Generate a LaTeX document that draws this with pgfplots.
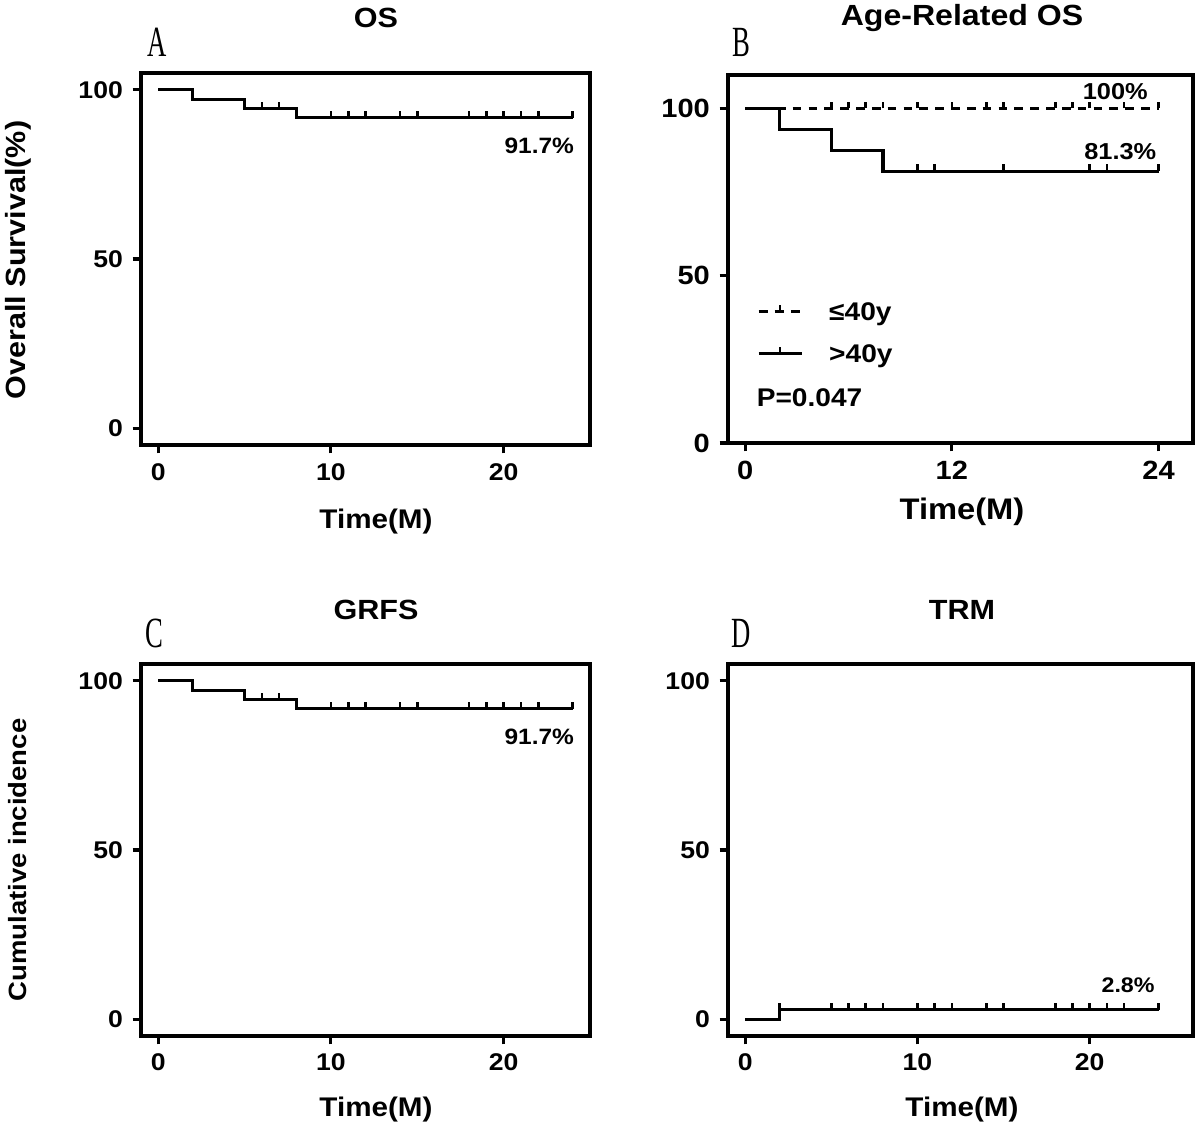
\documentclass[border=0pt]{standalone}
\usepackage{fontspec}
\setmainfont{Liberation Sans}[FakeStretch=1.1]
\newfontfamily\letterfont{Liberation Serif}[FakeStretch=0.62]
\usepackage{pgfplots}
\pgfplotsset{compat=1.18}

\pgfdeclareplotmark{ctick}{%
  \pgfpathmoveto{\pgfqpoint{0pt}{0pt}}%
  \pgfpathlineto{\pgfqpoint{0pt}{\pgfplotmarksize}}%
  \pgfusepathqstroke}

\pgfplotsset{
  km/.style={
    scale only axis, anchor=south west,
    axis line style={line width=1.3pt},
    tick style={black, line width=1.1pt},
    tick align=outside, major tick length=3pt,
    tick pos=left,
    ytick={0,50,100},
    /pgf/number format/assume math mode=true,
    ticklabel style={font=\bfseries\fontsize{8.7}{9}\selectfont},
    clip=false,
  },
  surv/.style={const plot, black, line width=1.1pt, no marks},
  cens/.style={only marks, mark=ctick, mark size=2.4pt, black, line width=0.95pt, mark options={solid}, forget plot},
}

\begin{document}
\begin{tikzpicture}
\path[use as bounding box] (0,0) rectangle (432pt,411.12pt);

% ---------------- A: OS
\begin{axis}[km, at={(50.76pt,250.92pt)}, width=161.64pt, height=133.92pt,
  xmin=-1, xmax=25, ymin=-5, ymax=105, xtick={0,10,20}]
\addplot[surv] coordinates {(0,100) (2,97.2) (5,94.4) (8,91.7) (24,91.7)};
\addplot[cens] coordinates {(6,94.4) (7,94.4) (10,91.7) (11,91.7) (12,91.7) (14,91.7) (15,91.7) (18,91.7) (19,91.7) (20,91.7) (21,91.7) (22,91.7) (24,91.7)};
\node[anchor=east, inner sep=0pt, font=\bfseries\fontsize{8}{9}\selectfont] at (axis cs:24.1,83.4) {91.7\%};
\end{axis}

% ---------------- B: Age-related OS
\begin{axis}[km, at={(262.08pt,251.64pt)}, width=167.4pt, height=132.48pt,
  xmin=-1, xmax=26, ymin=0, ymax=110, xtick={0,12,24},
  ticklabel style={font=\bfseries\fontsize{9.5}{10}\selectfont},
  legend cell align=left,
  legend style={draw=none, fill=none, inner sep=0pt, outer sep=0pt,
    at={(axis description cs:0.0624,0.383)}, anchor=north west,
    row sep=8.6pt, column sep=9.4pt,
    nodes={inner sep=0pt, text height=6.6pt, text depth=0pt},
    font=\bfseries\fontsize{9.2}{10}\selectfont}]
\addplot[surv, dash pattern=on 3.1pt off 2.6pt,
  legend image code/.code={%
    \draw[black, line width=1.1pt, dash pattern=on 3.4pt off 2.4pt] (0pt,0pt) -- (15.5pt,0pt);
    \draw[black, line width=0.95pt] (7.75pt,0pt) -- (7.75pt,2.4pt);}]
  coordinates {(0,100) (24,100)};
\addlegendentry{≤40y}
\addplot[surv,
  legend image code/.code={%
    \draw[black, line width=1.1pt] (0pt,0pt) -- (15.5pt,0pt);
    \draw[black, line width=0.95pt] (7.75pt,0pt) -- (7.75pt,2.4pt);}]
  coordinates {(0,100) (2,93.75) (5,87.5) (8,81.25) (24,81.25)};
\addlegendentry{>40y}
\addplot[cens] coordinates {(5,100) (6,100) (7,100) (8,100) (10,100) (12,100) (14,100) (15,100) (18,100) (19,100) (20,100) (22,100) (24,100)};
\addplot[cens] coordinates {(10,81.25) (11,81.25) (15,81.25) (20,81.25) (21,81.25) (24,81.25)};
\node[anchor=east, inner sep=0pt, font=\bfseries\fontsize{8.3}{9}\selectfont] at (axis cs:23.4,105) {100\%};
\node[anchor=east, inner sep=0pt, font=\bfseries\fontsize{8.3}{9}\selectfont] at (axis cs:23.9,87.1) {81.3\%};
\node[anchor=west, inner sep=0pt, font=\bfseries\fontsize{9.2}{10}\selectfont] at (axis cs:0.64,13.6) {P=0.047};
\end{axis}

% ---------------- C: GRFS
\begin{axis}[km, at={(50.76pt,38.16pt)}, width=161.64pt, height=133.92pt,
  xmin=-1, xmax=25, ymin=-5, ymax=105, xtick={0,10,20}]
\addplot[surv] coordinates {(0,100) (2,97.2) (5,94.4) (8,91.7) (24,91.7)};
\addplot[cens] coordinates {(6,94.4) (7,94.4) (10,91.7) (11,91.7) (12,91.7) (14,91.7) (15,91.7) (18,91.7) (19,91.7) (20,91.7) (21,91.7) (22,91.7) (24,91.7)};
\node[anchor=east, inner sep=0pt, font=\bfseries\fontsize{8}{9}\selectfont] at (axis cs:24.1,83.4) {91.7\%};
\end{axis}

% ---------------- D: TRM
\begin{axis}[km, at={(262.08pt,38.16pt)}, width=167.4pt, height=133.92pt,
  xmin=-1, xmax=26, ymin=-5, ymax=105, xtick={0,10,20}]
\addplot[surv] coordinates {(0,0) (2,2.8) (24,2.8)};
\addplot[cens] coordinates {(2,2.8) (5,2.8) (6,2.8) (7,2.8) (8,2.8) (10,2.8) (11,2.8) (12,2.8) (14,2.8) (15,2.8) (18,2.8) (19,2.8) (20,2.8) (21,2.8) (22,2.8) (24,2.8)};
\node[anchor=east, inner sep=0pt, font=\bfseries\fontsize{7.6}{8}\selectfont] at (axis cs:23.8,10.1) {2.8\%};
\end{axis}

% ---------------- texts
\begin{scope}[every node/.style={inner sep=0pt}]
\node[font=\letterfont\fontsize{15.5}{15.5}\selectfont] at (56.52pt,396pt) {A};
\node[font=\letterfont\fontsize{15.5}{15.5}\selectfont] at (266.76pt,396pt) {B};
\node[font=\letterfont\fontsize{15.5}{15.5}\selectfont] at (55.44pt,183.24pt) {C};
\node[font=\letterfont\fontsize{15.5}{15.5}\selectfont] at (266.76pt,183.24pt) {D};
\node[font=\bfseries\fontsize{10}{11}\selectfont] at (135.36pt,404.64pt) {OS};
\node[font=\bfseries\fontsize{10.5}{11}\selectfont] at (346.32pt,404.64pt) {Age-Related OS};
\node[font=\bfseries\fontsize{10}{11}\selectfont] at (135.36pt,191.52pt) {GRFS};
\node[font=\bfseries\fontsize{10}{11}\selectfont] at (346.32pt,191.52pt) {TRM};
\node[font=\bfseries\fontsize{9.7}{10}\selectfont] at (135.36pt,223.2pt) {Time(M)};
\node[font=\bfseries\fontsize{10.7}{11}\selectfont] at (346.32pt,226.8pt) {Time(M)};
\node[font=\bfseries\fontsize{9.7}{10}\selectfont] at (135.36pt,11.52pt) {Time(M)};
\node[font=\bfseries\fontsize{9.7}{10}\selectfont] at (346.32pt,11.52pt) {Time(M)};
\node[rotate=90, font=\bfseries\fontsize{10}{11}\selectfont] at (6.48pt,317.52pt) {Overall Survival(\%)};
\node[rotate=90, font=\bfseries\fontsize{9}{10}\selectfont] at (6.48pt,101.52pt) {Cumulative incidence};
\end{scope}
\end{tikzpicture}
\end{document}
